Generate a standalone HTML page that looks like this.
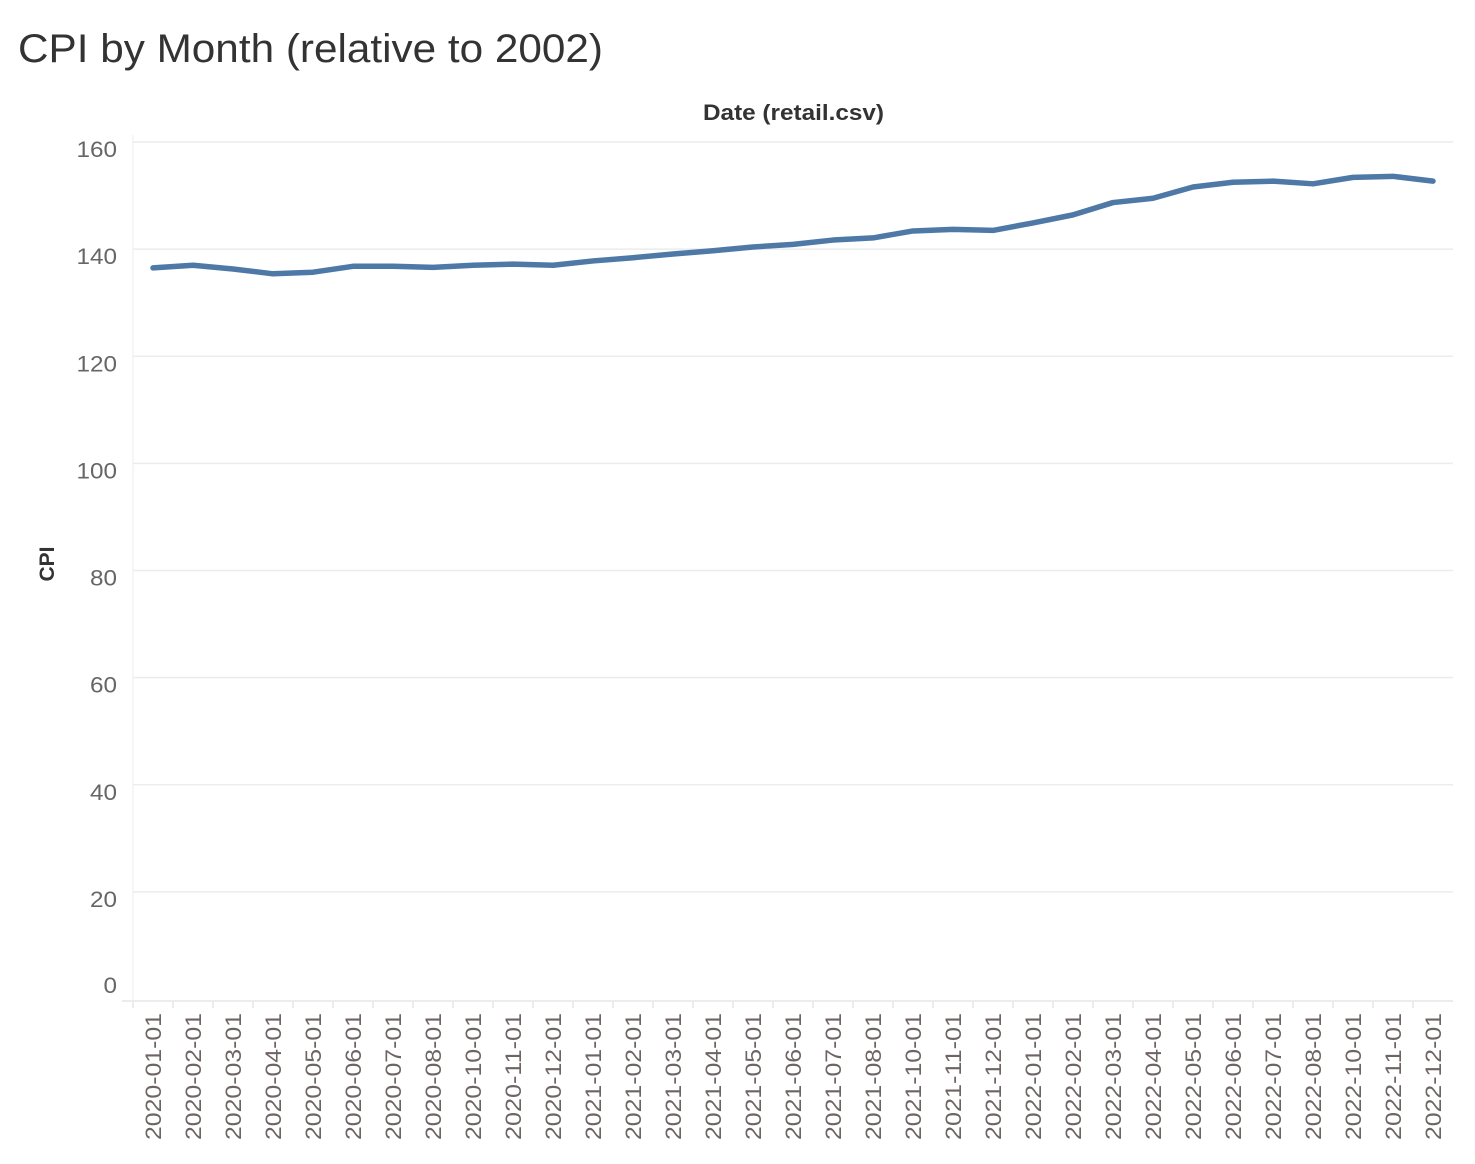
<!DOCTYPE html>
<html><head><meta charset="utf-8"><style>
body{margin:0;background:#fff;font-family:"Liberation Sans",sans-serif}
</style></head><body>
<svg id="chart" width="1475" height="1159" xmlns="http://www.w3.org/2000/svg">
<text x="18" y="62" font-size="40" fill="#333" textLength="585" lengthAdjust="spacingAndGlyphs">CPI by Month (relative to 2002)</text>
<text x="703" y="120" font-size="22" fill="#333" font-weight="bold" textLength="181" lengthAdjust="spacingAndGlyphs">Date (retail.csv)</text>
<text transform="translate(54,564) rotate(-90)" font-size="21" fill="#333" font-weight="bold" text-anchor="middle">CPI</text>
<g id="grid"></g><g id="yticks"></g><g id="xticks"></g>
<path id="line" fill="none" stroke="#4e79a7" stroke-width="5.5" stroke-linejoin="round" stroke-linecap="round"/>
</svg>
<script>
const categories=["2020-01-01","2020-02-01","2020-03-01","2020-04-01","2020-05-01","2020-06-01","2020-07-01","2020-08-01","2020-10-01","2020-11-01","2020-12-01","2021-01-01","2021-02-01","2021-03-01","2021-04-01","2021-05-01","2021-06-01","2021-07-01","2021-08-01","2021-10-01","2021-11-01","2021-12-01","2022-01-01","2022-02-01","2022-03-01","2022-04-01","2022-05-01","2022-06-01","2022-07-01","2022-08-01","2022-10-01","2022-11-01","2022-12-01"];
const cpiValues=[136.5,137.0,136.3,135.4,135.7,136.8,136.8,136.6,137.0,137.2,137.0,137.8,138.4,139.1,139.7,140.4,140.9,141.7,142.1,143.4,143.7,143.5,144.9,146.4,148.7,149.5,151.6,152.5,152.7,152.2,153.4,153.6,152.7];
const yTicks=[0,20,40,60,80,100,120,140,160];
const NS="http://www.w3.org/2000/svg";
const left=133,band=40,y0=999,yScale=5.356;
const x=i=>left+band*i+band/2;
const y=v=>y0-v*yScale;
function mk(tag,attrs,parent){const e=document.createElementNS(NS,tag);for(const k in attrs)e.setAttribute(k,attrs[k]);document.getElementById(parent).appendChild(e);return e;}
const right=left+band*categories.length;
mk('line',{x1:left,y1:135,x2:left,y2:1001,stroke:'#eee','stroke-width':1},'grid');
yTicks.forEach(t=>{
  if(t>0){const g=mk('line',{x1:left,x2:right,y1:y(t),y2:y(t),stroke:'#ececec','stroke-width':1.5},'grid');
  
  }
  const tx=mk('text',{x:117,y:(t===0?y(t)-6:y(t)+15),'font-size':22,fill:'#666','text-anchor':'end',textLength:(String(t).length*13.5),lengthAdjust:'spacingAndGlyphs'},'yticks');
  tx.textContent=t;
  
  
});
mk('line',{x1:122,x2:right,y1:1001,y2:1001,stroke:'#e6e6e6','stroke-width':1.5},'xticks');
categories.forEach((c,i)=>{
  mk('line',{x1:left+band*i,x2:left+band*i,y1:1002,y2:1008,stroke:'#e6e6e6','stroke-width':1.5},'xticks');
  const tx=mk('text',{transform:`translate(${x(i)+8},1140) rotate(-90)`,'font-size':22,fill:'#6e6464',textLength:127,lengthAdjust:'spacingAndGlyphs'},'xticks');
  tx.textContent=c;
  
  
});
document.getElementById('line').setAttribute('d',cpiValues.map((v,i)=>(i?'L':'M')+x(i)+','+y(v)).join(' '));
</script>
</body></html>
